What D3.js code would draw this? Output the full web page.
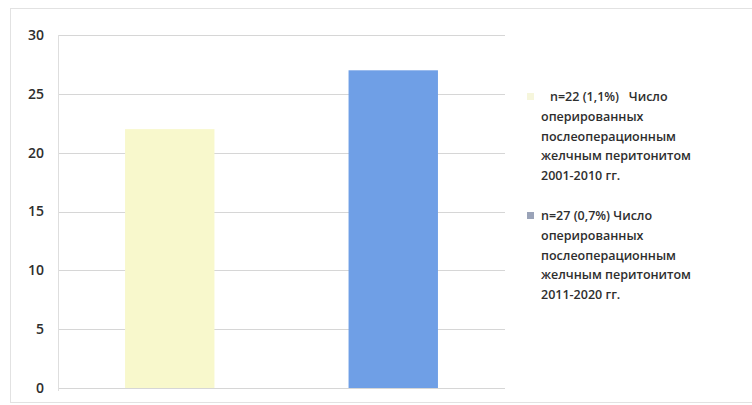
<!DOCTYPE html>
<html>
<head>
<meta charset="utf-8">
<script src="https://cdn.jsdelivr.net/npm/d3@7"></script>
<style>
  body { margin: 0; background: #fff; }
  text { font-family: "Open Sans", "Noto Sans", sans-serif; }
</style>
</head>
<body>
<div id="chart"></div>
<script>
// chart data
const categories = ["2001-2010", "2011-2020"]
const values = [22, 27]
const colors = ["#f8f8cc", "#6f9fe6"]
const yTicks = [0, 5, 10, 15, 20, 25, 30]
const legendLines = [
  ["n=22 (1,1%)   Число", "оперированных", "послеоперационным", "желчным перитонитом", "2001-2010 гг."],
  ["n=27 (0,7%) Число", "оперированных", "послеоперационным", "желчным перитонитом", "2011-2020 гг."]
]
const legendSwatch = ["#f6f6dc", "#9aa3b8"]

const width = 752
const height = 405
const margin = {left: 58, right: 247, top: 35, bottom: 17}

const svg = d3.select("#chart")
  .append("svg")
  .attr("width", width)
  .attr("height", height)

// faint outer frame of the chart area
svg.append("rect")
  .attr("x", 10.5).attr("y", 8.5)
  .attr("width", width).attr("height", 394)
  .attr("fill", "none")
  .attr("stroke", "#e2e2e2")

const x = d3.scaleBand()
  .domain(categories)
  .range([margin.left, width - margin.right])
  .paddingInner(0.6)
  .paddingOuter(0.3)

const y = d3.scaleLinear()
  .domain([0, 30])
  .range([height - margin.bottom, margin.top])

// gridlines
svg.append("g")
  .selectAll("line")
  .data(yTicks)
  .join("line")
    .attr("x1", margin.left)
    .attr("x2", width - margin.right)
    .attr("y1", d => Math.round(y(d)) + 0.5)
    .attr("y2", d => Math.round(y(d)) + 0.5)
    .attr("stroke", "#d6d6d6")

// left axis line
svg.append("line")
  .attr("x1", margin.left + 0.5).attr("x2", margin.left + 0.5)
  .attr("y1", y(30)).attr("y2", y(0) + 3)
  .attr("stroke", "#dedede")

// y axis labels
const yAxis = d3.axisLeft(y).tickValues(yTicks).tickSize(0).tickPadding(14)
const gy = svg.append("g")
  .attr("transform", `translate(${margin.left},0)`)
  .call(yAxis)
gy.select(".domain").remove()
gy.selectAll("text")
  .attr("fill", "#2e2e2e")
  .style("font-size", "14px")
  .style("font-weight", 600)
  .style("font-family", "'Open Sans', sans-serif")

// bars
svg.append("g")
  .selectAll("rect")
  .data(values)
  .join("rect")
    .attr("x", (d, i) => x(categories[i]))
    .attr("y", d => y(d))
    .attr("width", x.bandwidth())
    .attr("height", d => y(0) - y(d))
    .attr("fill", (d, i) => colors[i])

// legend
const legendX = 541
const legendY = [97, 216]
const lineH = 19.6
legendLines.forEach(function(lines, i) {
  const g = svg.append("g")
  g.append("rect")
    .attr("x", legendX - 14).attr("y", legendY[i] - 4)
    .attr("width", 7).attr("height", 7)
    .attr("fill", legendSwatch[i])
  g.selectAll("text")
    .data(lines)
    .join("text")
      .attr("x", (d, j) => (i == 0 && j == 0) ? legendX + 9 : legendX)
      .attr("y", (d, j) => legendY[i] + j * lineH)
      .attr("dy", "0.35em")
      .attr("fill", "#2e2e2e")
      .style("font-size", "12.5px")
      .style("font-weight", 600)
      .style("white-space", "pre")
      .text(d => d)
})
</script>
</body>
</html>
